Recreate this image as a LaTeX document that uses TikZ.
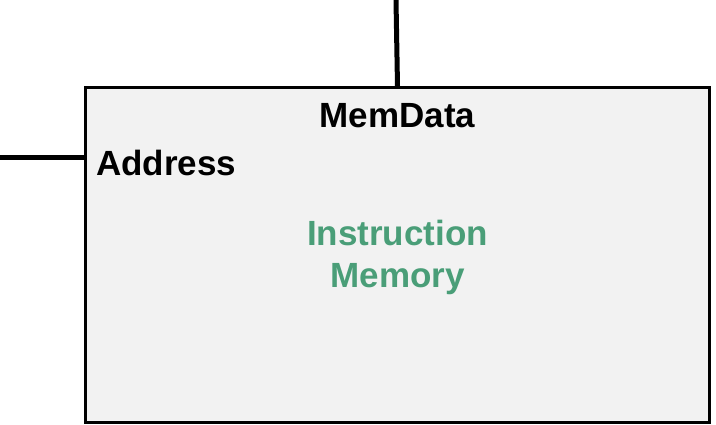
\documentclass[tikz,border=0pt]{standalone}
\usepackage{fontspec}
\setmainfont{Liberation Sans}
\usetikzlibrary{positioning}
\definecolor{memgreen}{HTML}{4A9E78}
\definecolor{memfill}{HTML}{F2F2F2}

\begin{document}
\begin{tikzpicture}[x=1pt, y=-1pt,
  port/.style={font=\bfseries\fontsize{35}{40}\selectfont, inner sep=0pt},
  wire/.style={line width=5pt},
  unit/.style={draw, line width=3pt, fill=memfill, minimum width=624pt, minimum height=335pt}]
\useasboundingbox (0,0) rectangle (716,424);

% instruction memory block
\node[unit, anchor=north west] (imem) at (84,86) {};
\node[port, text=memgreen, align=center, font=\bfseries\fontsize{35}{42}\selectfont] (name) at ([yshift=-2pt]imem.center) {Instruction\\Memory};

% MemData output
\node[port, below=17pt of imem.north] (memdata) {MemData};
\coordinate (data-out) at (396,0);
\draw[wire] (imem.north) -- (data-out);

% Address input
\coordinate (addr-src) at (0,157);
\coordinate (addr-in) at (84,157);
\draw[wire] (addr-src) -- (addr-in);
\node[port, right=12pt of addr-in, yshift=-6pt] (addr) {Address};
\end{tikzpicture}
\end{document}
